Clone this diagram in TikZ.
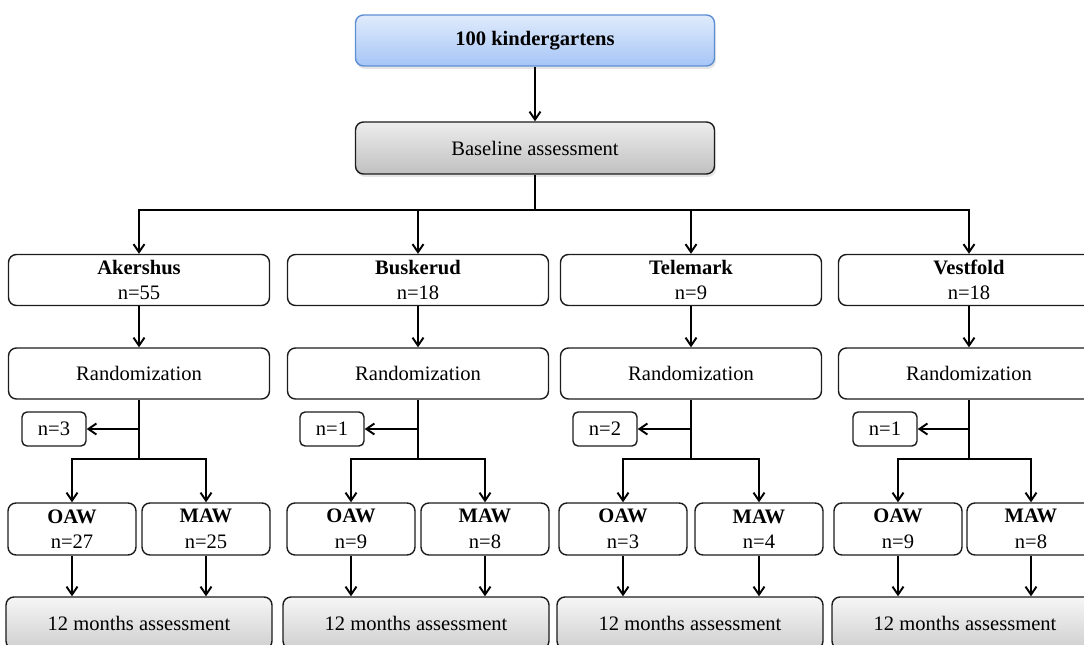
\documentclass[tikz,border=0pt]{standalone}
\usepackage{fontspec}
\setmainfont{Liberation Serif}
\usetikzlibrary{arrows.meta,positioning,shadows}
\definecolor{ink}{HTML}{1C1C1C}
\definecolor{bluetop}{HTML}{E0EBFC}
\definecolor{bluebot}{HTML}{A6C5F6}
\definecolor{blueline}{HTML}{5F8FD3}
\definecolor{graytop}{HTML}{EDEDED}
\definecolor{graybot}{HTML}{C0C0C0}
\definecolor{endtop}{HTML}{F6F6F6}
\definecolor{endbot}{HTML}{CFCFCF}
\tikzset{
  every node/.style={font=\fontsize{11.7}{14.5}\selectfont},
  box/.style={draw=ink, rounded corners=1.6mm, line width=0.8pt, fill=white, align=center, inner sep=0pt, minimum width=52.2mm, minimum height=10.2mm},
  bluebox/.style={box, draw=blueline, top color=bluetop, bottom color=bluebot, minimum width=71.8mm, drop shadow={opacity=0.2, shadow xshift=0.3mm, shadow yshift=-0.6mm}},
  graybox/.style={box, top color=graytop, bottom color=graybot, minimum width=71.8mm, minimum height=10.4mm, drop shadow={opacity=0.2, shadow xshift=0.3mm, shadow yshift=-0.6mm}},
  subbox/.style={box, minimum width=25.6mm, minimum height=10.4mm},
  nbox/.style={box, rounded corners=1mm, minimum width=12.8mm, minimum height=6.8mm},
  endbox/.style={box, top color=endtop, bottom color=endbot, minimum width=53.2mm, minimum height=10.4mm},
  line/.style={line width=1.1pt, draw=black},
  arrow/.style={line, -{Straight Barb[length=1.6mm,width=2.2mm,line width=1.1pt]}},
}
\begin{document}
\begin{tikzpicture}[x=0.2mm,y=-0.2mm]
\clip (0,0) rectangle (1084,645);
\node[bluebox] (top) at (535,40.5) {\textbf{100 kindergartens}};
\node[graybox] (base) at (535,148) {Baseline assessment};
\coordinate (bus) at (535,210);
\draw[line] (base) -- (bus);

\node[box] (ak) at (139,280) {\textbf{Akershus}\\n=55};
\node[box] (akr) at (139,373.5) {Randomization};
\node[nbox] (akn) at (54,429) {n=3};
\coordinate (aks) at (139,459);
\node[subbox] (ako) at (72,529) {\textbf{OAW}\\n=27};
\node[subbox] (akm) at (206,529) {\textbf{MAW}\\n=25};
\node[endbox] (akf) at (139,623) {12 months assessment};

\node[box] (bu) at (418,280) {\textbf{Buskerud}\\n=18};
\node[box] (bur) at (418,373.5) {Randomization};
\node[nbox] (bun) at (332,429) {n=1};
\coordinate (bus2) at (418,459);
\node[subbox] (buo) at (351,529) {\textbf{OAW}\\n=9};
\node[subbox] (bum) at (485,529) {\textbf{MAW}\\n=8};
\node[endbox] (buf) at (416,623) {12 months assessment};

\node[box] (te) at (691,280) {\textbf{Telemark}\\n=9};
\node[box] (ter) at (691,373.5) {Randomization};
\node[nbox] (ten) at (605,429) {n=2};
\coordinate (tes) at (691,459);
\node[subbox] (teo) at (623,529) {\textbf{OAW}\\n=3};
\node[subbox] (tem) at (759,529) {\textbf{MAW}\\n=4};
\node[endbox] (tef) at (690,623) {12 months assessment};

\node[box] (ve) at (969,280) {\textbf{Vestfold}\\n=18};
\node[box] (ver) at (969,373.5) {Randomization};
\node[nbox] (ven) at (885,429) {n=1};
\coordinate (ves) at (969,459);
\node[subbox] (veo) at (898,529) {\textbf{OAW}\\n=9};
\node[subbox] (vem) at (1031,529) {\textbf{MAW}\\n=8};
\node[endbox] (vef) at (965,623) {12 months assessment};

\draw[arrow] (top) -- (base);
\draw[arrow] (bus) -| (ak.north);
\draw[arrow] (bus) -| (bu.north);
\draw[arrow] (bus) -| (te.north);
\draw[arrow] (bus) -| (ve.north);

\draw[arrow] (ak) -- (akr);
\draw[line] (akr) -- (aks);
\draw[arrow] (akn -| akr) -- (akn);
\draw[arrow] (aks) -| (ako.north);
\draw[arrow] (aks) -| (akm.north);
\draw[arrow] (ako.south) -- (ako.south |- akf.north);
\draw[arrow] (akm.south) -- (akm.south |- akf.north);

\draw[arrow] (bu) -- (bur);
\draw[line] (bur) -- (bus2);
\draw[arrow] (bun -| bur) -- (bun);
\draw[arrow] (bus2) -| (buo.north);
\draw[arrow] (bus2) -| (bum.north);
\draw[arrow] (buo.south) -- (buo.south |- buf.north);
\draw[arrow] (bum.south) -- (bum.south |- buf.north);

\draw[arrow] (te) -- (ter);
\draw[line] (ter) -- (tes);
\draw[arrow] (ten -| ter) -- (ten);
\draw[arrow] (tes) -| (teo.north);
\draw[arrow] (tes) -| (tem.north);
\draw[arrow] (teo.south) -- (teo.south |- tef.north);
\draw[arrow] (tem.south) -- (tem.south |- tef.north);

\draw[arrow] (ve) -- (ver);
\draw[line] (ver) -- (ves);
\draw[arrow] (ven -| ver) -- (ven);
\draw[arrow] (ves) -| (veo.north);
\draw[arrow] (ves) -| (vem.north);
\draw[arrow] (veo.south) -- (veo.south |- vef.north);
\draw[arrow] (vem.south) -- (vem.south |- vef.north);
\end{tikzpicture}
\end{document}
